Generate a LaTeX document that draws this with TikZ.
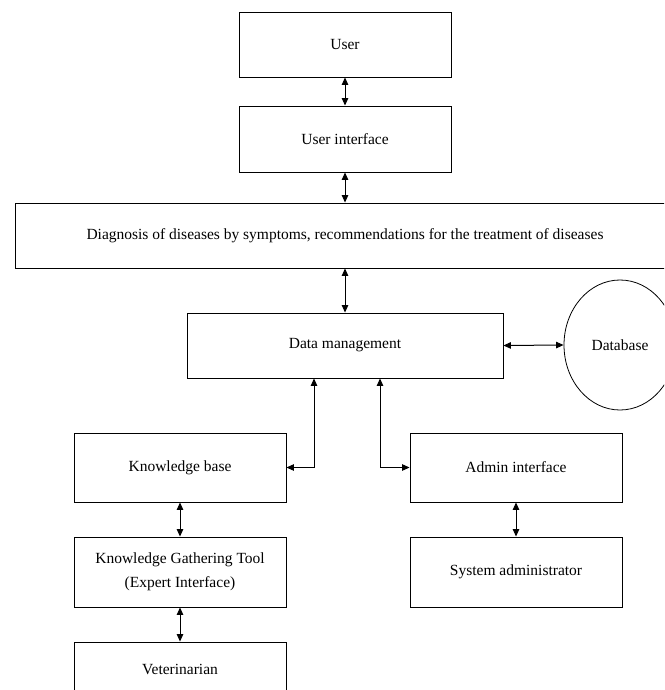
\documentclass[tikz,border=0pt]{standalone}
\usepackage{fontspec}
\setmainfont{Liberation Serif}
\usetikzlibrary{arrows.meta,shapes.geometric}
\tikzset{
  box/.style={draw, line width=0.9pt, inner sep=2pt, align=center,
    minimum width=212pt, minimum height=66pt, font=\fontsize{15.5}{24}\selectfont},
  store/.style={draw, ellipse, line width=0.8pt, inner sep=0pt,
    minimum width=112pt, minimum height=130pt, font=\fontsize{15.5}{24}\selectfont},
  link/.style={line width=1pt, {Triangle[length=7.5pt,width=6.5pt]}-{Triangle[length=7.5pt,width=6.5pt]}}
}
\begin{document}
\begin{tikzpicture}[x=1pt,y=-1pt]
  \clip (0,0) rectangle (664,690);
  \fill[white] (0,0) rectangle (664,690);

  % user side
  \node[box, minimum height=65pt] (user) at (345,44.5) {User};
  \node[box] (ui) at (345,139) {User interface};
  \node[box, minimum width=660pt, minimum height=65pt] (diag) at (345,235.5)
    {Diagnosis of diseases by symptoms, recommendations for the treatment of diseases};

  % data layer
  \node[box, minimum width=316pt, minimum height=65pt] (dm) at (345,345.5) {Data management};
  \node[store] (db) at (620,345) {Database};

  % knowledge and admin branches
  \node[box, minimum height=69pt] (kb) at (180,467.5) {Knowledge base};
  \node[box, minimum height=69pt] (admin) at (516,467.5) {Admin interface};
  \node[box, minimum height=70pt] (kgt) at (180,572) {Knowledge Gathering Tool\\(Expert Interface)};
  \node[box, minimum height=70pt] (sa) at (516,572) {System administrator};
  \node[box, minimum height=54pt] (vet) at (180,669) {Veterinarian};

  % connectors
  \draw[link] (user.south) -- (ui.north);
  \draw[link] (ui.south) -- (diag.north -| ui.south);
  \draw[link] (diag.south -| dm.north) -- (dm.north);
  \draw[link] (dm.east) -- (db.west);
  \draw[link] (kb.east) -| ([xshift=-31pt]dm.south);
  \draw[link] (admin.west) -| ([xshift=35pt]dm.south);
  \draw[link] (kb.south) -- (kgt.north);
  \draw[link] (kgt.south) -- (vet.north);
  \draw[link] (admin.south) -- (sa.north);
\end{tikzpicture}
\end{document}
